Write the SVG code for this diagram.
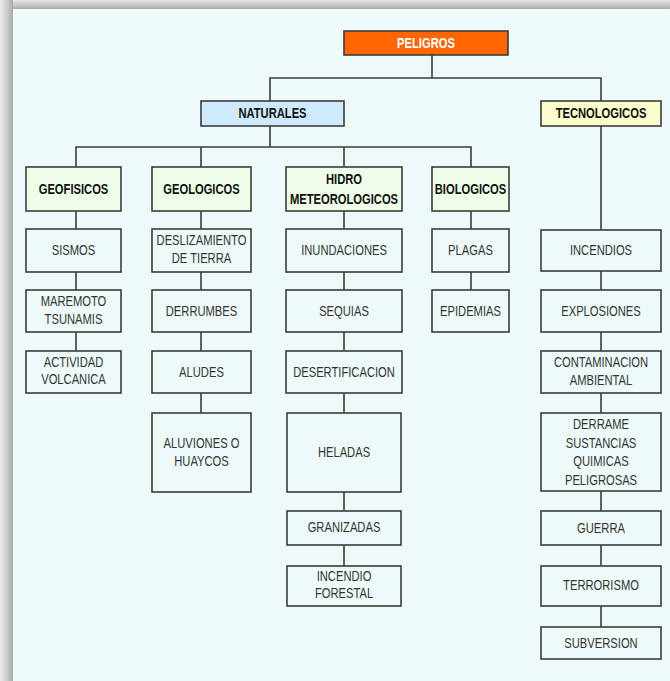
<svg xmlns="http://www.w3.org/2000/svg" width="670" height="681" viewBox="0 0 670 681">
<defs>
<linearGradient id="gl" x1="0" y1="0" x2="1" y2="0"><stop offset="0" stop-color="#ececec"/><stop offset="0.6" stop-color="#c8c8c8"/><stop offset="1" stop-color="#a9a9a9"/></linearGradient>
<linearGradient id="gt" x1="0" y1="0" x2="0" y2="1"><stop offset="0" stop-color="#e6e6e6"/><stop offset="0.6" stop-color="#c6c6c6"/><stop offset="1" stop-color="#ababab"/></linearGradient>
<style>
.b{stroke:#3c3c3c;stroke-width:1.6}
.w{fill:#eefaf9}
.t{font-family:"Liberation Sans",Arial,sans-serif;font-size:14px;fill:#333;text-anchor:middle}
.h{font-weight:bold;fill:#111}
.c line,.c polyline{stroke:#3c3c3c;stroke-width:1.6;fill:none}
</style>
</defs>
<rect width="670" height="681" fill="#eefaf9"/>
<rect x="0" y="0" width="670" height="9" fill="url(#gt)"/>
<rect x="0" y="0" width="13" height="681" fill="url(#gl)"/>
<g class="c" id="connectors">
<line x1="432" y1="55" x2="432" y2="78"/>
<polyline points="270,101 270,78 601,78 601,230"/>
<line x1="270" y1="126" x2="270" y2="147"/>
<polyline points="76,167 76,147 471,147 471,167"/>
<line x1="201" y1="147" x2="201" y2="167"/>
<line x1="344" y1="147" x2="344" y2="167"/>
<line x1="76" y1="211" x2="76" y2="351"/>
<line x1="201" y1="211" x2="201" y2="413"/>
<line x1="344" y1="211" x2="344" y2="566"/>
<line x1="471" y1="211" x2="471" y2="290"/>
<line x1="601" y1="271" x2="601" y2="627"/>
</g>
<g id="peligros"><rect x="344" y="31" width="164" height="24" class="b" style="fill:#ff6600"/><text class="t h" transform="matrix(0.8 0 0 1 426 0)" x="0" y="48" style="fill:#fff">PELIGROS</text></g>
<g id="naturales"><rect x="201" y="101" width="143" height="25" class="b" style="fill:#cfeafd"/><text class="t h" transform="matrix(0.8 0 0 1 272.5 0)" x="0" y="118.5">NATURALES</text></g>
<g id="tecnologicos"><rect x="541" y="101" width="120" height="25" class="b" style="fill:#fefdcc"/><text class="t h" transform="matrix(0.8 0 0 1 601 0)" x="0" y="118.5">TECNOLOGICOS</text></g>
<g id="geofisicos"><rect x="26" y="167" width="95" height="44" class="b" style="fill:#effce8"/><text class="t h" transform="matrix(0.8 0 0 1 73.5 0)" x="0" y="194">GEOFISICOS</text></g>
<g id="geologicos"><rect x="152" y="167" width="99" height="44" class="b" style="fill:#effce8"/><text class="t h" transform="matrix(0.8 0 0 1 201.5 0)" x="0" y="194">GEOLOGICOS</text></g>
<g id="hidro"><rect x="286" y="167" width="116" height="44" class="b" style="fill:#effce8"/><text class="t h" transform="matrix(0.8 0 0 1 344 0)" x="0" y="184">HIDRO</text><text class="t h" transform="matrix(0.8 0 0 1 344 0)" x="0" y="204">METEOROLOGICOS</text></g>
<g id="biologicos"><rect x="432" y="167" width="77" height="44" class="b" style="fill:#effce8"/><text class="t h" transform="matrix(0.8 0 0 1 470.5 0)" x="0" y="194">BIOLOGICOS</text></g>
<g id="sismos"><rect x="26" y="229" width="95" height="43" class="b w"/><text class="t" transform="matrix(0.8 0 0 1 73.5 0)" x="0" y="255.5">SISMOS</text></g>
<g id="maremoto"><rect x="26" y="290" width="95" height="42" class="b w"/><text class="t" transform="matrix(0.8 0 0 1 73.5 0)" x="0" y="306">MAREMOTO</text><text class="t" transform="matrix(0.8 0 0 1 73.5 0)" x="0" y="324">TSUNAMIS</text></g>
<g id="actividad"><rect x="26" y="351" width="95" height="42" class="b w"/><text class="t" transform="matrix(0.8 0 0 1 73.5 0)" x="0" y="367">ACTIVIDAD</text><text class="t" transform="matrix(0.8 0 0 1 73.5 0)" x="0" y="384">VOLCANICA</text></g>
<g id="deslizamiento"><rect x="152" y="229" width="99" height="43" class="b w"/><text class="t" transform="matrix(0.8 0 0 1 201.5 0)" x="0" y="245">DESLIZAMIENTO</text><text class="t" transform="matrix(0.8 0 0 1 201.5 0)" x="0" y="263">DE TIERRA</text></g>
<g id="derrumbes"><rect x="152" y="290" width="99" height="42" class="b w"/><text class="t" transform="matrix(0.8 0 0 1 201.5 0)" x="0" y="316">DERRUMBES</text></g>
<g id="aludes"><rect x="152" y="351" width="99" height="42" class="b w"/><text class="t" transform="matrix(0.8 0 0 1 201.5 0)" x="0" y="377">ALUDES</text></g>
<g id="aluviones"><rect x="152" y="413" width="99" height="79" class="b w"/><text class="t" transform="matrix(0.8 0 0 1 201.5 0)" x="0" y="448">ALUVIONES O</text><text class="t" transform="matrix(0.8 0 0 1 201.5 0)" x="0" y="466">HUAYCOS</text></g>
<g id="inundaciones"><rect x="286" y="229" width="116" height="43" class="b w"/><text class="t" transform="matrix(0.8 0 0 1 344 0)" x="0" y="255.5">INUNDACIONES</text></g>
<g id="sequias"><rect x="286" y="290" width="116" height="42" class="b w"/><text class="t" transform="matrix(0.8 0 0 1 344 0)" x="0" y="316">SEQUIAS</text></g>
<g id="desertificacion"><rect x="286" y="351" width="116" height="42" class="b w"/><text class="t" transform="matrix(0.8 0 0 1 344 0)" x="0" y="377">DESERTIFICACION</text></g>
<g id="heladas"><rect x="287" y="413" width="114" height="79" class="b w"/><text class="t" transform="matrix(0.8 0 0 1 344 0)" x="0" y="457">HELADAS</text></g>
<g id="granizadas"><rect x="287" y="511" width="114" height="34" class="b w"/><text class="t" transform="matrix(0.8 0 0 1 344 0)" x="0" y="532">GRANIZADAS</text></g>
<g id="incendioforestal"><rect x="287" y="566" width="114" height="40" class="b w"/><text class="t" transform="matrix(0.8 0 0 1 344 0)" x="0" y="581">INCENDIO</text><text class="t" transform="matrix(0.8 0 0 1 344 0)" x="0" y="598">FORESTAL</text></g>
<g id="plagas"><rect x="432" y="229" width="77" height="43" class="b w"/><text class="t" transform="matrix(0.8 0 0 1 470.5 0)" x="0" y="255.5">PLAGAS</text></g>
<g id="epidemias"><rect x="432" y="290" width="77" height="42" class="b w"/><text class="t" transform="matrix(0.8 0 0 1 470.5 0)" x="0" y="316">EPIDEMIAS</text></g>
<g id="incendios"><rect x="541" y="230" width="120" height="41" class="b w"/><text class="t" transform="matrix(0.8 0 0 1 601 0)" x="0" y="255.5">INCENDIOS</text></g>
<g id="explosiones"><rect x="541" y="290" width="120" height="42" class="b w"/><text class="t" transform="matrix(0.8 0 0 1 601 0)" x="0" y="316">EXPLOSIONES</text></g>
<g id="contaminacion"><rect x="541" y="351" width="120" height="42" class="b w"/><text class="t" transform="matrix(0.8 0 0 1 601 0)" x="0" y="367">CONTAMINACION</text><text class="t" transform="matrix(0.8 0 0 1 601 0)" x="0" y="385">AMBIENTAL</text></g>
<g id="derrame"><rect x="541" y="413" width="120" height="78" class="b w"/><text class="t" transform="matrix(0.8 0 0 1 601 0)" x="0" y="429">DERRAME</text><text class="t" transform="matrix(0.8 0 0 1 601 0)" x="0" y="448">SUSTANCIAS</text><text class="t" transform="matrix(0.8 0 0 1 601 0)" x="0" y="466">QUIMICAS</text><text class="t" transform="matrix(0.8 0 0 1 601 0)" x="0" y="485">PELIGROSAS</text></g>
<g id="guerra"><rect x="541" y="511" width="120" height="34" class="b w"/><text class="t" transform="matrix(0.8 0 0 1 601 0)" x="0" y="533">GUERRA</text></g>
<g id="terrorismo"><rect x="541" y="566" width="120" height="40" class="b w"/><text class="t" transform="matrix(0.8 0 0 1 601 0)" x="0" y="590">TERRORISMO</text></g>
<g id="subversion"><rect x="541" y="627" width="120" height="32" class="b w"/><text class="t" transform="matrix(0.8 0 0 1 601 0)" x="0" y="648">SUBVERSION</text></g>
</svg>
